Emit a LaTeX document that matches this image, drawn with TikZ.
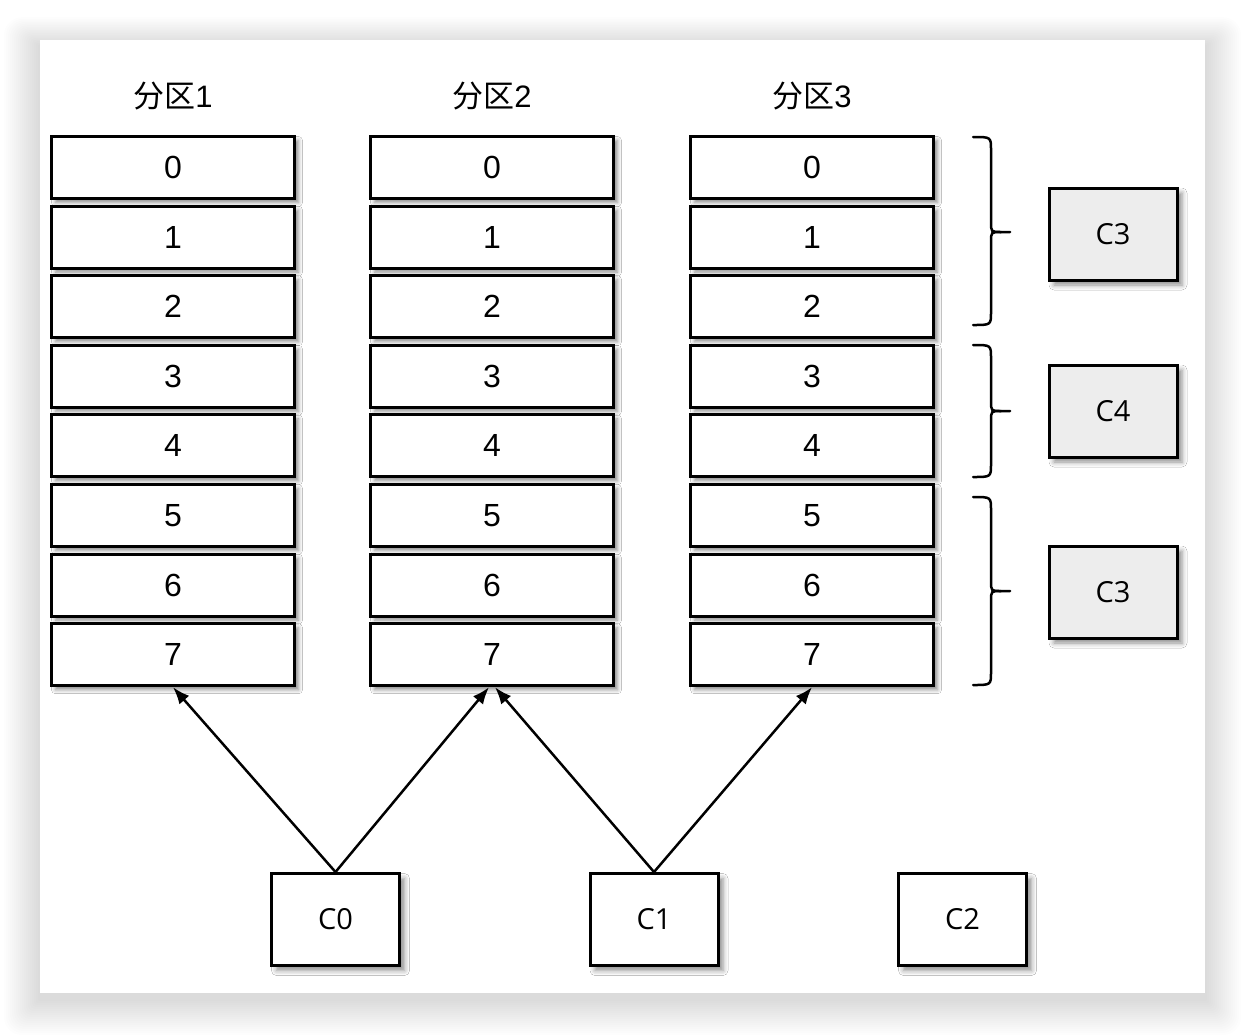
\documentclass[tikz,border=0pt]{standalone}
\usepackage{fontspec}
\setmainfont{Liberation Sans}
\newfontfamily\cjk{Noto Sans CJK SC}
\newfontfamily\lbl{Open Sans}
\usetikzlibrary{arrows.meta,shadows.blur}
\newcommand\mybrace[3]{%
  \draw[bracestyle] (973,#1) .. controls (991,#1) .. (991,{#1+13}) -- (991,{#2-10})
     .. controls (991,#2) .. (1001,#2) -- (1010,#2);
  \draw[bracestyle] (1001,#2) .. controls (991,#2) .. (991,{#2+10}) -- (991,{#3-13})
     .. controls (991,#3) .. (973,#3);}
\begin{document}
\begin{tikzpicture}[x=1pt,y=-1pt,
  cell/.style={draw,line width=3pt,fill=white,minimum width=243pt,minimum height=62pt,
    inner sep=0pt,font=\fontsize{32}{32}\selectfont,
    blur shadow={shadow xshift=4pt,shadow yshift=-4pt,shadow blur radius=4pt,shadow opacity=45}},
  titletext/.style={font=\fontsize{31}{31}\selectfont,inner sep=0pt},
  cbox/.style={draw,line width=3pt,fill=white,minimum width=128pt,minimum height=92pt,
    inner sep=0pt,font=\lbl\fontsize{29}{29}\selectfont,
    blur shadow={shadow xshift=5pt,shadow yshift=-5pt,shadow blur radius=5pt,shadow opacity=45}},
  gbox/.style={cbox,fill=black!7},
  arr/.style={line width=2.5pt,-{Latex[length=17pt,width=13pt]}},
  bracestyle/.style={line width=2.5pt,line cap=round}]
\fill[white] (0,0) rectangle (1246,1034);
\useasboundingbox (0,0) rectangle (1246,1034);
\foreach \i in {1,...,18}{
  \fill[black,opacity=0.0065,rounded corners=\i pt]
    ({40-2*\i},{46-1.6*\i}) rectangle ({1205+2*\i},{999+2*\i});
}
\fill[white] (40,40) rectangle (1205,993);
\foreach \c/\x in {1/173,2/492,3/812}{
  \node[titletext] (t\c) at (\x,96) {{\cjk 分区}\c};
  \foreach \r in {0,...,7}{
    \node[cell] (p\c\r) at (\x,{167.5+69.6*\r}) {\r};
  }
}
\mybrace{137}{232}{325}
\mybrace{345}{411}{477}
\mybrace{497}{591}{685}
\node[gbox] (c3a) at (1113,234) {C3};
\node[gbox] (c4) at (1113,411) {C4};
\node[gbox] (c3b) at (1113,592) {C3};
\node[cbox] (c0) at (335.5,919.5) {C0};
\node[cbox] (c1) at (654,919.5) {C1};
\node[cbox] (c2) at (962.5,919.5) {C2};
\draw[arr] (c0.north) -- (p17.south);
\draw[arr] (c0.north) -- ([xshift=-3pt]p27.south);
\draw[arr] (c1.north) -- ([xshift=3pt]p27.south);
\draw[arr] (c1.north) -- (p37.south);
\end{tikzpicture}
\end{document}
